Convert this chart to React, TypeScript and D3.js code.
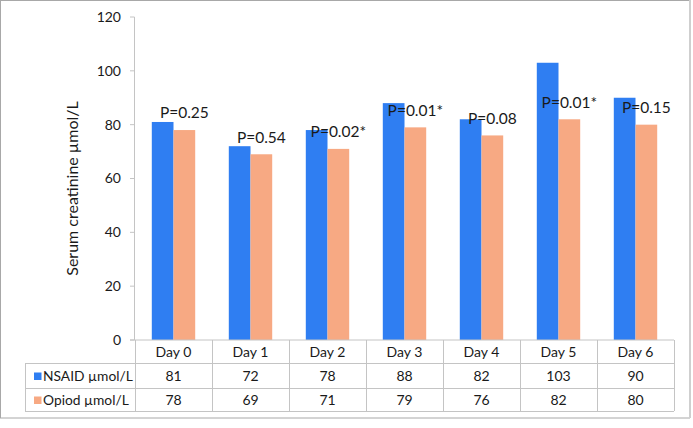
import React from "react";
import * as d3 from "d3";

const days = ["Day 0", "Day 1", "Day 2", "Day 3", "Day 4", "Day 5", "Day 6"];
const nsaid = [81, 72, 78, 88, 82, 103, 90];
const opioid = [78, 69, 71, 79, 76, 82, 80];
const pLabels = ["P=0.25", "P=0.54", "P=0.02*", "P=0.01*", "P=0.08", "P=0.01*", "P=0.15"];
const seriesNames = ["NSAID µmol/L", "Opiod µmol/L"];
const yTicks = [0, 20, 40, 60, 80, 100, 120];

const BLUE = "#2F7EF2";
const ORANGE = "#F7A983";
const FONT = "Lato, 'Open Sans', sans-serif";
const TXT = "#1a1a1a";
const LINE = "#c4c4c4";

export default function App() {
  const W = 693, H = 428;
  const y = d3.scaleLinear().domain([0, 120]).range([340, 17]);
  const x0 = d3.scaleBand<string>().domain(days).range([135, 674]).padding(0);
  const x1 = d3.scaleBand<string>().domain(seriesNames).range([0, x0.bandwidth()]).paddingInner(0).paddingOuter(0.774);
  const rowTop = [340, 363, 388, 411];
  const series = [nsaid, opioid];
  const colors = [BLUE, ORANGE];

  return (
    <svg width={W} height={H} style={{ position: "absolute", left: 0, top: 0, background: "#fff" }} fontFamily={FONT}>
      <rect x={0.5} y={0.5} width={689} height={417.5} fill="#fff" stroke="#a8a8a8" strokeWidth={1} />
      <line x1={690} x2={690} y1={0} y2={418} stroke="#cfcfcf" strokeWidth={2} />
      {/* Y axis */}
      <line x1={134.5} x2={134.5} y1={y(120)} y2={y(0)} stroke={LINE} />
      {yTicks.map((t) => (
        <g key={t}>
          <line x1={130} x2={134.5} y1={y(t)} y2={y(t)} stroke={LINE} />
          <text x={121} y={y(t)} dy="0.35em" textAnchor="end" fontSize={14} fill={TXT}>{t}</text>
        </g>
      ))}
      <text transform={`translate(78,${(y(120) + y(0)) / 2 + 10}) rotate(-90)`} textAnchor="middle" fontSize={16} fill={TXT}>
        Serum creatinine µmol/L
      </text>
      {/* Bars */}
      {days.map((d, i) => (
        <g key={d}>
          {series.map((s, j) => (
            <rect key={j} x={(x0(d) as number) + (x1(seriesNames[j]) as number)} y={y(s[i])}
              width={x1.bandwidth()} height={y(0) - y(s[i])} fill={colors[j]} />
          ))}
        </g>
      ))}
      {/* P labels */}
      {days.map((d, i) => (
        <text key={d} x={(x0(d) as number) + (x1(seriesNames[1]) as number) + x1.bandwidth() / 2}
          y={y(opioid[i]) - 17} dy="0.35em" textAnchor="middle" fontSize={15.5} fill={TXT}>{pLabels[i]}</text>
      ))}
      {/* Table */}
      <line x1={130} x2={674} y1={rowTop[0]} y2={rowTop[0]} stroke={LINE} />
      {rowTop.slice(1).map((r, k) => (
        <line key={k} x1={25} x2={674} y1={r + 0.5} y2={r + 0.5} stroke={LINE} />
      ))}
      <line x1={25.5} x2={25.5} y1={rowTop[1]} y2={rowTop[3]} stroke={LINE} />
      {days.map((d) => (
        <line key={d} x1={(x0(d) as number) + 0.5} x2={(x0(d) as number) + 0.5} y1={rowTop[0]} y2={rowTop[3]} stroke={LINE} />
      ))}
      <line x1={674.5} x2={674.5} y1={rowTop[0]} y2={rowTop[3]} stroke={LINE} />
      {days.map((d) => (
        <text key={d} x={(x0(d) as number) + x0.bandwidth() / 2} y={(rowTop[0] + rowTop[1]) / 2 + 1} dy="0.35em"
          textAnchor="middle" fontSize={14} fill={TXT}>{d}</text>
      ))}
      {series.map((s, j) => (
        <g key={j}>
          <rect x={34} y={(rowTop[j + 1] + rowTop[j + 2]) / 2 - 3} width={7.5} height={7.5} fill={colors[j]} />
          <text x={43} y={(rowTop[j + 1] + rowTop[j + 2]) / 2 + 1} dy="0.35em" fontSize={13.8} fill={TXT}>{seriesNames[j]}</text>
          {days.map((d, i) => (
            <text key={d} x={(x0(d) as number) + x0.bandwidth() / 2} y={(rowTop[j + 1] + rowTop[j + 2]) / 2 + 1} dy="0.35em"
              textAnchor="middle" fontSize={14} fill={TXT}>{s[i]}</text>
          ))}
        </g>
      ))}
    </svg>
  );
}
